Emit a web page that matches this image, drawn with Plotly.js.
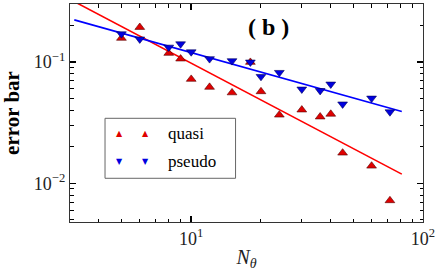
<!DOCTYPE html>
<html>
<head>
<meta charset="utf-8">
<script src="https://cdn.plot.ly/plotly-3.0.1.min.js"></script>
<style>
html,body{margin:0;padding:0;background:#fff;}
#chart{width:442px;height:274px;}
</style>
</head>
<body>
<div id="chart"></div>
<script>
// Data
const nTheta = [5, 6, 8, 9, 10, 12, 15, 18, 20, 24, 30, 36, 40, 45, 60, 72];
const quasi  = [0.157, 0.193, 0.118, 0.106, 0.0721, 0.0620, 0.0558, 0.0995, 0.0570, 0.0366, 0.0403, 0.0353, 0.0372, 0.0178, 0.0139, 0.00721];
const pseudo = [0.170, 0.154, 0.132, 0.1406, 0.1208, 0.106, 0.102, 0.0995, 0.0757, 0.0817, 0.0596, 0.0580, 0.0655, 0.0449, 0.0502, 0.0387];
const fitX = [3.13, 81];
const quasiFit = [0.314, 0.0119];
const pseudoFit = [0.222, 0.039];
const seriesNames = ['quasi', 'pseudo'];
const xTickVals = [10, 100];
const xTickText = ['10<sup>1</sup>', '10<sup>2</sup>'];
const yTickVals = [0.01, 0.1];
const yTickText = ['10<sup>−2</sup>', '10<sup>−1</sup>'];

const serif = 'Liberation Serif, DejaVu Serif, serif';
const red = '#e00000';
const blue = '#0000e0';

const traces = [
  {x: fitX, y: quasiFit, mode: 'lines', line: {color: '#ff0000', width: 1.6}, showlegend: false, hoverinfo: 'skip'},
  {x: fitX, y: pseudoFit, mode: 'lines', line: {color: '#0000ff', width: 1.6}, showlegend: false, hoverinfo: 'skip'},
  {x: nTheta, y: quasi, mode: 'markers', name: seriesNames[0], showlegend: false,
   marker: {symbol: 'triangle-up', size: 8.5, color: red, line: {color: '#550000', width: 0.6}}},
  {x: nTheta, y: pseudo, mode: 'markers', name: seriesNames[1], showlegend: false,
   marker: {symbol: 'triangle-down', size: 8.5, color: blue, line: {color: '#000055', width: 0.6}}}
];

const axisCommon = {
  type: 'log',
  showgrid: false,
  zeroline: false,
  showline: true,
  linecolor: '#333',
  linewidth: 1.2,
  mirror: 'allticks',
  ticks: 'inside',
  ticklen: 6,
  tickwidth: 1.6,
  tickcolor: '#000',
  tickmode: 'array',
  tickfont: {family: serif, size: 18, color: '#222'},
  minor: {ticks: 'inside', ticklen: 3.5, tickwidth: 1, tickcolor: '#000', dtick: 'D1', showgrid: false}
};

const legX = [0.1397, 0.2144];
const legY = [0.4037, 0.2798];

const annotations = [
  {xref: 'paper', yref: 'paper', x: 0.5637, y: 0.8945, text: '( b )', showarrow: false,
   font: {family: serif, size: 24, color: '#000', weight: 'bold'}, xanchor: 'center', yanchor: 'middle'},
  {xref: 'paper', yref: 'paper', x: 0.272, y: legY[0], text: seriesNames[0], showarrow: false,
   font: {family: serif, size: 17, color: '#000'}, xanchor: 'left', yanchor: 'middle'},
  {xref: 'paper', yref: 'paper', x: 0.272, y: legY[1], text: seriesNames[1], showarrow: false,
   font: {family: serif, size: 17, color: '#000'}, xanchor: 'left', yanchor: 'middle'}
];
legX.forEach(function (lx) {
  annotations.push({xref: 'paper', yref: 'paper', x: lx, y: legY[0], text: '▲', showarrow: false,
    font: {family: 'DejaVu Sans', size: 8, color: red}, xanchor: 'center', yanchor: 'middle'});
  annotations.push({xref: 'paper', yref: 'paper', x: lx, y: legY[1], text: '▼', showarrow: false,
    font: {family: 'DejaVu Sans', size: 8, color: blue}, xanchor: 'center', yanchor: 'middle'});
});

const layout = {
  width: 442, height: 274,
  margin: {l: 70, r: 19, t: 4, b: 52},
  paper_bgcolor: '#fff', plot_bgcolor: '#fff',
  showlegend: false,
  xaxis: Object.assign({}, axisCommon, {
    range: [Math.log10(3), 2],
    tickvals: xTickVals, ticktext: xTickText,
    title: {text: '<i>N</i><sub><i>θ</i></sub>', font: {family: serif, size: 20, color: '#222'}, standoff: 2}
  }),
  yaxis: Object.assign({}, axisCommon, {
    range: [Math.log10(0.0048), Math.log10(0.3)],
    tickvals: yTickVals, ticktext: yTickText,
    title: {text: 'error bar', font: {family: serif, size: 21, color: '#000', weight: 'bold'}, standoff: 8}
  }),
  shapes: [
    {type: 'rect', xref: 'paper', yref: 'paper', x0: 0.0992, x1: 0.469, y0: 0.2005, y1: 0.4757,
     line: {color: '#666', width: 1}, fillcolor: 'rgba(255,255,255,1)', layer: 'above'}
  ],
  annotations: annotations
};

Plotly.newPlot('chart', traces, layout, {staticPlot: true, displayModeBar: false});
</script>
</body>
</html>
